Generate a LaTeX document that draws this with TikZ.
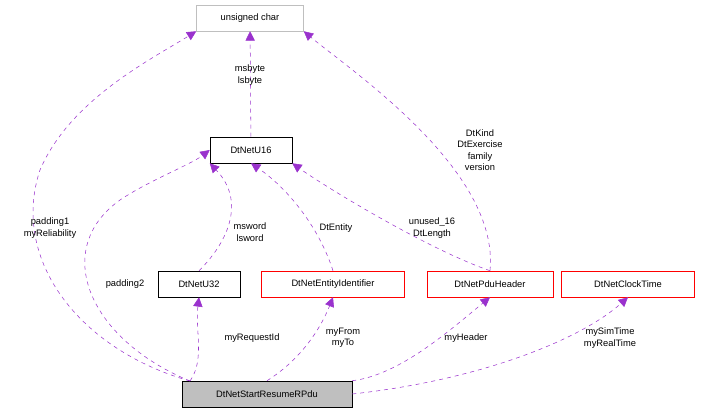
\documentclass[tikz,border=0pt]{standalone}
\usepackage{fontspec}
\setmainfont{Liberation Sans}
\usetikzlibrary{arrows.meta, positioning}
\definecolor{CPurple}{HTML}{9A32CD}
\definecolor{CRed}{HTML}{FF0000}
\definecolor{CGrayBox}{HTML}{BFBFBF}
\definecolor{CGrayFill}{HTML}{BFBFBF}
\tikzset{
  cls/.style={draw=black, fill=white, minimum height=19.5pt, inner sep=2pt, font=\fontsize{7pt}{8pt}\selectfont},
  redcls/.style={draw=CRed, fill=white, minimum height=19.5pt, inner sep=2pt, font=\fontsize{7pt}{8pt}\selectfont},
  use/.style={CPurple, dashed, -{Triangle[length=7pt, width=7pt]}},
  lbl/.style={align=center, font=\fontsize{7pt}{8.6pt}\selectfont}
}
\begin{document}
\begin{tikzpicture}[x=0.75pt, y=-0.75pt]
    \useasboundingbox (0,0) rectangle (701,416);
    % Classes
    \node[cls, draw=CGrayBox, minimum width=80.25pt] (UChar) at (250,18) {unsigned char};
    \node[cls, minimum width=61.5pt] (U16) at (251,150) {DtNetU16};
    \node[cls, minimum width=61.5pt] (U32) at (199,284) {DtNetU32};
    \node[redcls, minimum width=107pt] (EntId) at (333,284) {DtNetEntityIdentifier};
    \node[redcls, minimum width=94.5pt] (PduHdr) at (490,284) {DtNetPduHeader};
    \node[redcls, minimum width=99.75pt] (Clock) at (628,284) {DtNetClockTime};
    \node[cls, fill=CGrayFill, minimum width=127.5pt] (Start) at (267,394) {DtNetStartResumeRPdu};
    \coordinate (StartL) at (190,381);

    % Members
    \draw[use] (U16) -- (UChar);
    \node[lbl] at (250,75) {msbyte\\lsbyte};
    \draw[use] (U32.north) .. controls (230,240) and (245,200) .. (U16.south west);
    \node[lbl] at (250,232) {msword\\lsword};
    \draw[use] (EntId.north) .. controls (320,230) and (290,190) .. (U16.south);
    \node[lbl] at (336,228) {DtEntity};
    \draw[use] (PduHdr.north) .. controls (430,250) and (330,190) .. (U16.south east);
    \node[lbl] at (432,228) {unused\_16\\DtLength};
    \draw[use] (PduHdr.north) .. controls (500,170) and (350,70) .. (UChar.south east);
    \node[lbl] at (480,150) {DtKind\\DtExercise\\family\\version};
    \draw[use] (StartL) .. controls (80,350) and (10,260) .. (40,170) .. controls (70,100) and (150,60) .. (UChar.south west);
    \node[lbl] at (50,228) {padding1\\myReliability};
    \draw[use] (StartL) .. controls (90,340) and (50,250) .. (120,200) .. controls (150,180) and (190,165) .. (U16.west);
    \node[lbl] at (125,284) {padding2};
    \draw[use] (StartL) .. controls (205,360) and (195,330) .. (U32.south);
    \node[lbl] at (252,338) {myRequestId};
    \draw[use] (Start.north) .. controls (300,360) and (320,330) .. (EntId.south);
    \node[lbl] at (343,338) {myFrom\\myTo};
    \draw[use] (Start.north east) .. controls (400,375) and (450,330) .. (PduHdr.south);
    \node[lbl] at (466,338) {myHeader};
    \draw[use] (Start.east) .. controls (480,380) and (580,340) .. (Clock.south);
    \node[lbl] at (610,338) {mySimTime\\myRealTime};
\end{tikzpicture}
\end{document}
